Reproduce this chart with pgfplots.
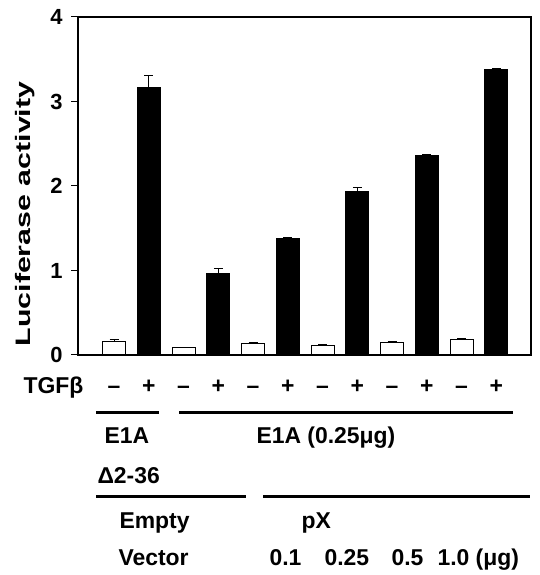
\documentclass[border=0pt]{standalone}
\usepackage{fontspec}
\setmainfont{Liberation Sans}
\usepackage{pgfplots}
\pgfplotsset{compat=1.18}
\newcommand{\lab}{\bfseries\fontsize{23}{27}\selectfont}

\begin{document}
\begin{tikzpicture}
\path[use as bounding box] (0bp,0bp) rectangle (540bp,575bp);
\begin{axis}[
    at={(78bp,220bp)}, anchor=south west,
    scale only axis, width=453bp, height=338bp,
    xmin=-1.04, xmax=12, ymin=0, ymax=4,
    xtick=\empty, ytick={0,1,2,3,4},
    ytick pos=left, tick align=outside, major tick length=7bp,
    tick style={line width=1bp, black},
    axis line style={line width=1.2bp},
    /pgf/number format/assume math mode=true,
    yticklabel style={font=\bfseries\fontsize{22}{26}\selectfont, xshift=-5bp},
    ybar, bar width=23bp, bar shift=0pt,
]
% TGFb -
\addplot[draw=black, fill=white, line width=1bp,
    error bars/.cd, y dir=plus, y explicit,
    error mark options={rotate=90, mark size=4.5bp, line width=1bp},
    error bar style={line width=1bp}]
    coordinates {(0,0.157) +- (0,0.03) (2,0.086) +- (0,0.004) (4,0.138) +- (0,0.004)
                 (6,0.118) +- (0,0.004) (8,0.150) +- (0,0.004) (10,0.178) +- (0,0.02)};
% TGFb +
\addplot[draw=black, fill=black, line width=1bp,
    error bars/.cd, y dir=plus, y explicit,
    error mark options={rotate=90, mark size=4.5bp, line width=1bp},
    error bar style={line width=1bp}]
    coordinates {(1,3.17) +- (0,0.14) (3,0.96) +- (0,0.06) (5,1.38) +- (0,0.01)
                 (7,1.94) +- (0,0.04) (9,2.36) +- (0,0.01) (11,3.38) +- (0,0.01)};
\end{axis}
\begin{scope}[x=1bp, y=1bp]
% y label
\node[rotate=90, font=\bfseries\fontsize{21}{24}\selectfont] at (25,361)
    {\scalebox{1.45}[1]{Luciferase activity}};
% TGFb row
\node[anchor=base west, font=\lab] at (20,182) {TGFβ};
\foreach \s [count=\i from 0] in {–,+,–,+,–,+,–,+,–,+,–,+}
    \node[anchor=base, font=\lab] at ({114+34.75*\i},182) {\s};
% group lines
\draw[line width=3bp] (96,162) -- (159,162);
\draw[line width=3bp] (179,162) -- (513,162);
\node[anchor=base west, font=\lab] at (101,132) {E1A};
\node[anchor=base west, font=\lab] at (253,132) {E1A (0.25μg)};
\node[anchor=base west, font=\lab] at (94,92) {Δ2-36};
\draw[line width=3bp] (96,78) -- (246,78);
\draw[line width=3bp] (263,78) -- (530,78);
\node[anchor=base west, font=\lab] at (116,47) {Empty};
\node[anchor=base west, font=\lab] at (298,47) {pX};
\node[anchor=base west, font=\lab] at (115,10) {Vector};
\node[anchor=base west, font=\lab] at (266,10) {0.1};
\node[anchor=base west, font=\lab] at (321,10) {0.25};
\node[anchor=base west, font=\lab] at (388,10) {0.5};
\node[anchor=base west, font=\lab] at (434,10) {1.0 (μg)};
\end{scope}
\end{tikzpicture}
\end{document}
